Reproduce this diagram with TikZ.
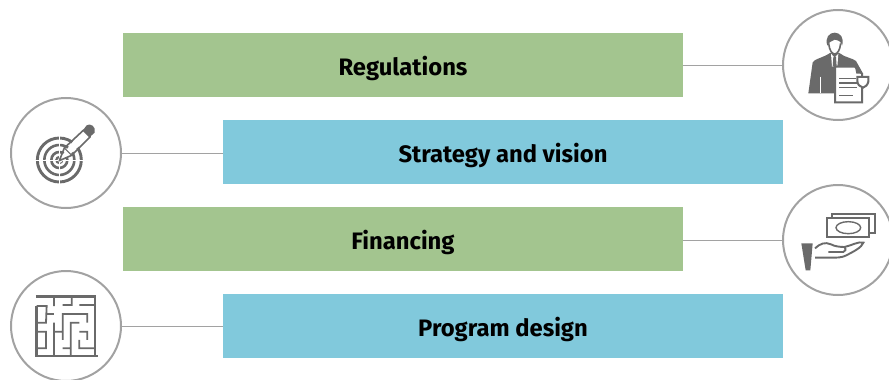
\documentclass[tikz,border=0pt]{standalone}
\usepackage{fontspec}
\setmainfont{Fira Sans}
\usetikzlibrary{positioning}
\definecolor{barGreen}{HTML}{A3C58F}
\definecolor{barBlue}{HTML}{81C9DC}
\definecolor{ringGray}{HTML}{A2A2A2}
\definecolor{iconGray}{HTML}{6A6A6A}

\begin{document}
\begin{tikzpicture}[x=1pt,y=-1pt,on grid,node distance=87pt]
       \tikzstyle{every bar}=[minimum width=560pt,minimum height=64pt,inner sep=0pt,text height=20pt,text depth=0pt,font=\fontsize{23.8}{28}\selectfont\bfseries]
       \tikzstyle{greenbar}=[every bar,fill=barGreen]
       \tikzstyle{bluebar}=[every bar,fill=barBlue]
       \tikzstyle{ring}=[circle,draw=ringGray,line width=2pt,minimum size=110pt,inner sep=0pt,fill=white]
       \tikzstyle{link}=[draw=ringGray,line width=0.9pt]
       \tikzstyle{icon}=[draw=iconGray,line width=2pt,fill=none]
       \tikzstyle{solid icon}=[fill=iconGray,draw=none]
       \tikzstyle{zoomed}=[x=0.3333pt,y=-0.3333pt]

       \clip (0,0) rectangle (889,380);

       \node[greenbar] (bar_0) at (403,65)          {Regulations};
       \node[bluebar]  (bar_1) [below right=87pt and 100pt of bar_0] {Strategy and vision};
       \node[greenbar] (bar_2) [below=174pt of bar_0] {Financing};
       \node[bluebar]  (bar_3) [below=174pt of bar_1] {Program design};

       \node[ring] (ring_0) [right=435pt of bar_0]             {};
       \node[ring] (ring_1) [left=437pt of bar_1,yshift=-1pt]  {};
       \node[ring] (ring_2) [right=435pt of bar_2,yshift=-1pt] {};
       \node[ring] (ring_3) [left=437pt of bar_3]              {};

       \path[link]
       (ring_0) edge (ring_0 -| bar_0.east)
       (ring_1) edge (ring_1 -| bar_1.west)
       (ring_2) edge (ring_2 -| bar_2.east)
       (ring_3) edge (ring_3 -| bar_3.west);

       % person with sheet
       \begin{scope}[shift={(800,25)},zoomed]
         \fill[solid icon] (25,205) -- (38,112) .. controls (42,102) and (70,98) .. (90,84) -- (118,84) .. controls (135,98) and (160,100) .. (168,108) -- (186,140) -- (186,205) -- cycle;
         \fill[white] (93,86) -- (104,98) -- (115,86) -- (112,125) -- (96,125) -- cycle;
         \fill[solid icon] (100,96) -- (108,96) -- (110,125) -- (98,125) -- cycle;
         \draw[white,line width=1.2pt] (62,155) -- (62,205);
         \fill[white] (89,50) .. controls (90,72) and (96,84) .. (104,84) .. controls (112,84) and (118,72) .. (119,50) -- cycle;
         \draw[icon,line width=1.6pt] (86,55) .. controls (88,76) and (96,87) .. (104,87) .. controls (112,87) and (120,76) .. (122,55);
         \fill[solid icon] (82,62) .. controls (74,38) and (88,23) .. (104,23) .. controls (120,23) and (134,38) .. (126,62) .. controls (124,50) and (116,46) .. (104,44) .. controls (96,50) and (88,48) .. (82,62) -- cycle;
         \draw[icon,fill=white] (105,125) -- (165,125) -- (186,146) -- (186,232) -- (105,232) -- cycle;
         \fill[solid icon] (165,125) -- (186,146) -- (169,146) -- cycle;
         \draw[icon,fill=white] (172,156) -- (205,156) -- (205,170) .. controls (203,180) and (196,186) .. (189,188) .. controls (180,186) and (172,178) .. (172,168) -- cycle;
         \draw[icon,line width=1.4pt] (117,160) -- (168,160) (117,174) -- (170,174) (117,188) -- (172,188) (117,212) -- (160,212);
       \end{scope}

       % target with pencil
       \begin{scope}[shift={(30,120)},zoomed]
         \foreach \r/\w in {66/2.9,45/2.6,24/2.6,9/2.2}
           \draw[icon,line width=\w pt] (88,120) circle (\r);
         \draw[white,line width=0.8pt] (10,120) -- (166,120) (88,42) -- (88,198);
         \fill[white] (84,122) -- (92,128) -- (190,40) -- (165,18) -- cycle;
         \draw[icon,line width=1.6pt,line join=round] (88,122) -- (103,84) -- (161,30) -- (181,50) -- (125,106) -- cycle;
         \draw[icon,line width=1.1pt] (103,84) -- (125,106);
         \fill[solid icon] (158,32) -- (170,16) .. controls (180,8) and (200,20) .. (194,38) -- (178,52) -- cycle;
       \end{scope}

       % banknotes and hand
       \begin{scope}[shift={(795,205)},zoomed]
         \draw[icon,line width=2.3pt] (110,38) -- (110,27) -- (241,27) -- (241,84) -- (224,84);
         \draw[icon,line width=2.3pt,fill=white] (95,40) rectangle (222,97);
         \draw[icon,line width=1.4pt] (160,68) ellipse (37 and 18);
         \fill[solid icon] (19,115) -- (53,115) -- (46,196) -- (32,196) -- cycle;
         \draw[icon,line width=1.9pt] (60,130) .. controls (75,116) and (90,110) .. (108,118) .. controls (118,124) and (135,126) .. (148,126) .. controls (155,132) and (150,140) .. (145,141) -- (100,141);
         \draw[icon,line width=1.9pt] (148,126) .. controls (170,122) and (190,108) .. (205,113) .. controls (200,128) and (175,140) .. (152,152) .. controls (140,158) and (125,158) .. (110,158) -- (60,158);
       \end{scope}

       % maze
       \begin{scope}[shift={(30,290)},zoomed]
         \draw[icon,line width=2.6pt] (18,20) -- (195,20) -- (195,198) (20,48) -- (20,198) -- (205,198);
         \draw[icon,line width=1.8pt] (72,20) -- (72,48) (98,45) -- (125,45) -- (125,20) (148,45) -- (195,45)
           (20,48) -- (50,48) -- (48,98) -- (22,98) (48,72) -- (72,72)
           (72,98) -- (72,198) (72,125) -- (98,125) (98,150) -- (98,72) -- (172,72) -- (172,98)
           (148,98) -- (122,98) -- (122,198) (98,175) -- (122,175)
           (22,125) -- (48,125) -- (48,175) -- (22,175)
           (148,125) -- (172,125) -- (172,150) (148,150) -- (148,175) -- (195,175);
       \end{scope}
\end{tikzpicture}
\end{document}
